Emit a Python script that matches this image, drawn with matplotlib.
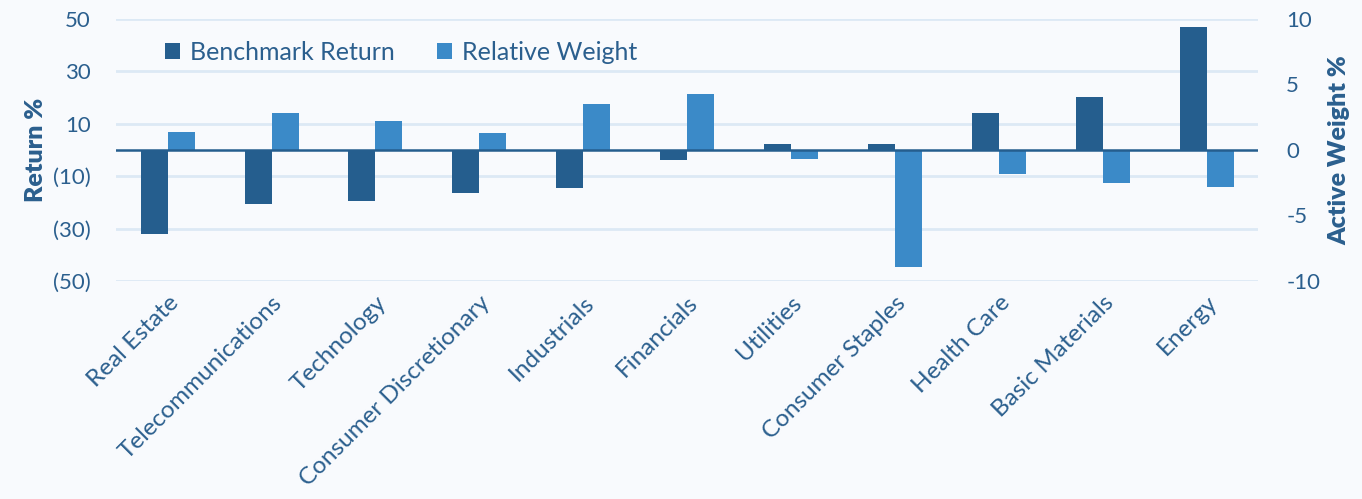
import numpy as np
import matplotlib.pyplot as plt

# --------------------------------- #
# data

sectors = ["Real Estate", "Telecommunications", "Technology", "Consumer Discretionary",
           "Industrials", "Financials", "Utilities", "Consumer Staples",
           "Health Care", "Basic Materials", "Energy"]
benchmarkReturn = [-32.2, -20.6, -19.6, -16.4, -14.6, -3.7, 2.2, 2.2, 14.0, 20.4, 47.1]
relativeWeight = [1.40, 2.80, 2.24, 1.32, 3.54, 4.25, -0.69, -8.96, -1.86, -2.54, -2.85]

leftTicks = [50, 30, 10, -10, -30, -50]
leftTickLabels = ["50", "30", "10", "(10)", "(30)", "(50)"]
rightTicks = [10, 5, 0, -5, -10]
rightTickLabels = ["10", "5", "0", "-5", "-10"]

# --------------------------------- #

plt.rcParams['font.family'] = ['Lato', 'DejaVu Sans']

darkBlue = '#255E8E'
lightBlue = '#3B8AC8'
textColor = '#2B5F8E'
gridColor = '#DCE9F5'
bgColor = '#F8FAFD'

fig, ax = plt.subplots(figsize=(13.62, 4.99), dpi=100)
fig.patch.set_facecolor(bgColor)
ax.set_facecolor(bgColor)
fig.subplots_adjust(left=0.085, right=0.924, top=0.962, bottom=0.437)

x = np.arange(len(sectors))
w = 0.26

ax2 = ax.twinx()

for y in leftTicks:
    ax.axhline(y, color=gridColor, lw=2, zorder=0)

b1 = ax.bar(x - w / 2, benchmarkReturn, w, color=darkBlue, zorder=2, label="Benchmark Return")
b2 = ax2.bar(x + w / 2, relativeWeight, w, color=lightBlue, zorder=2, label="Relative Weight")
ax2.axhline(0, color=darkBlue, lw=1.8, zorder=3)

ax.set_xlim(-0.5, len(sectors) - 0.5)
ax.set_ylim(-50, 50)
ax2.set_ylim(-10, 10)

ax.set_yticks(leftTicks)
ax.set_yticklabels(leftTickLabels)
ax2.set_yticks(rightTicks)
ax2.set_yticklabels(rightTickLabels)

ax.set_xticks(x)
ax.set_xticklabels(sectors, rotation=45, ha='right', rotation_mode='anchor')

for a in (ax, ax2):
    for s in a.spines.values():
        s.set_visible(False)
    a.tick_params(length=0, labelsize=16, colors=textColor)
ax.tick_params(axis='y', pad=18)
ax2.tick_params(axis='y', pad=20)
ax.tick_params(axis='x', pad=8, labelsize=17.5)

ax.set_ylabel("Return %", fontsize=18, fontweight='heavy', color=textColor, labelpad=4)
ax2.set_ylabel("Active Weight %", fontsize=18, fontweight='heavy', color=textColor, labelpad=6)

ax2.legend(handles=[b1, b2], loc='upper left', bbox_to_anchor=(0.034, 0.955), ncol=2,
           frameon=False, fontsize=18, labelcolor=textColor, handlelength=0.6,
           handleheight=0.6, handletextpad=0.4, columnspacing=1.7, borderaxespad=0)

plt.savefig("out.png", dpi=100, facecolor=bgColor)
